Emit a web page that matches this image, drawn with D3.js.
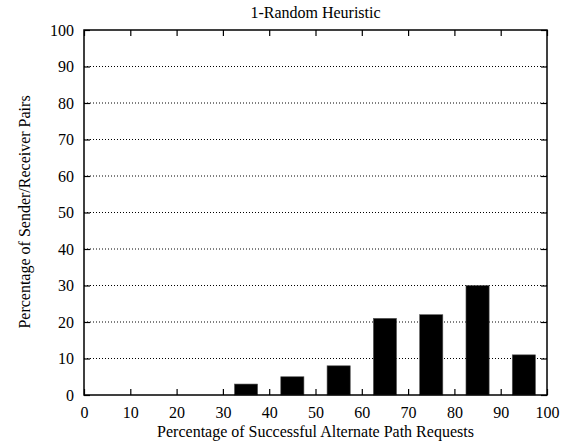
<!DOCTYPE html>
<html>
<head>
<meta charset="utf-8">
<script src="https://cdn.jsdelivr.net/npm/d3@7"></script>
<style>
  body { margin: 0; background: #fff; }
  svg text { font-family: "Liberation Serif", "DejaVu Serif", serif; fill: #000; }
</style>
</head>
<body>
<div class="chart"></div>
<script>
// data
var binCenters = [35, 45, 55, 65, 75, 85, 95];
var pairPercent = [3, 5, 8, 21, 22, 30, 11];
var xTicks = [0, 10, 20, 30, 40, 50, 60, 70, 80, 90, 100];
var yTicks = [0, 10, 20, 30, 40, 50, 60, 70, 80, 90, 100];

var svgWidth = 569;
var svgHeight = 447;
var chartMargin = { top: 30, right: 22, bottom: 52, left: 84 };
var width = svgWidth - chartMargin.left - chartMargin.right;
var height = svgHeight - chartMargin.top - chartMargin.bottom;

var svg = d3.select(".chart")
  .append("svg")
  .attr("width", svgWidth)
  .attr("height", svgHeight);

var chartGroup = svg.append("g")
  .attr("transform", `translate(${chartMargin.left}, ${chartMargin.top})`);

var xScale = d3.scaleLinear().domain([0, 100]).range([0, width]);
var yScale = d3.scaleLinear().domain([0, 100]).range([height, 0]);

// dotted horizontal grid
chartGroup.selectAll(".grid")
  .data(yTicks.filter(d => d > 0 && d < 100))
  .enter()
  .append("line")
  .attr("x1", 0)
  .attr("x2", width)
  .attr("y1", d => yScale(d))
  .attr("y2", d => yScale(d))
  .attr("stroke", "#000")
  .attr("stroke-width", 1)
  .attr("stroke-dasharray", "1,2");

// bars
chartGroup.selectAll(".bar")
  .data(binCenters)
  .enter()
  .append("rect")
  .attr("x", (d, i) => xScale(d - 2.5))
  .attr("width", xScale(5) - xScale(0))
  .attr("y", (d, i) => yScale(pairPercent[i]))
  .attr("height", (d, i) => height - yScale(pairPercent[i]))
  .attr("fill", "#000")
  .attr("stroke", "#555")
  .attr("stroke-width", 0.6);

// axes with inward ticks on all four sides
var bottomAxis = d3.axisBottom(xScale).tickValues(xTicks).tickSizeInner(-6).tickSizeOuter(0).tickPadding(12);
var topAxis = d3.axisTop(xScale).tickValues(xTicks).tickSizeInner(-6).tickSizeOuter(0).tickFormat("");
var leftAxis = d3.axisLeft(yScale).tickValues(yTicks).tickSizeInner(-6).tickSizeOuter(0).tickPadding(10);
var rightAxis = d3.axisRight(yScale).tickValues(yTicks).tickSizeInner(-6).tickSizeOuter(0).tickFormat("");

chartGroup.append("g").attr("transform", `translate(0, ${height})`).call(bottomAxis);
chartGroup.append("g").call(topAxis);
chartGroup.append("g").call(leftAxis);
chartGroup.append("g").attr("transform", `translate(${width}, 0)`).call(rightAxis);

chartGroup.selectAll(".domain").remove();
chartGroup.selectAll(".tick line").attr("stroke", "#000").attr("stroke-width", 1.2);
chartGroup.selectAll(".tick text")
  .style("font-family", "'Liberation Serif', serif")
  .style("font-size", "16px");

// frame
chartGroup.append("rect")
  .attr("width", width)
  .attr("height", height)
  .attr("fill", "none")
  .attr("stroke", "#000")
  .attr("stroke-width", 1.5);

// titles
svg.append("text")
  .attr("x", chartMargin.left + width / 2)
  .attr("y", 18)
  .attr("text-anchor", "middle")
  .style("font-size", "16px")
  .text("1-Random Heuristic");

svg.append("text")
  .attr("x", chartMargin.left + width / 2)
  .attr("y", 437)
  .attr("text-anchor", "middle")
  .style("font-size", "16px")
  .text("Percentage of Successful Alternate Path Requests");

svg.append("text")
  .attr("transform", "rotate(-90)")
  .attr("x", -212)
  .attr("y", 30)
  .attr("text-anchor", "middle")
  .style("font-size", "16px")
  .text("Percentage of Sender/Receiver Pairs");
</script>
</body>
</html>
